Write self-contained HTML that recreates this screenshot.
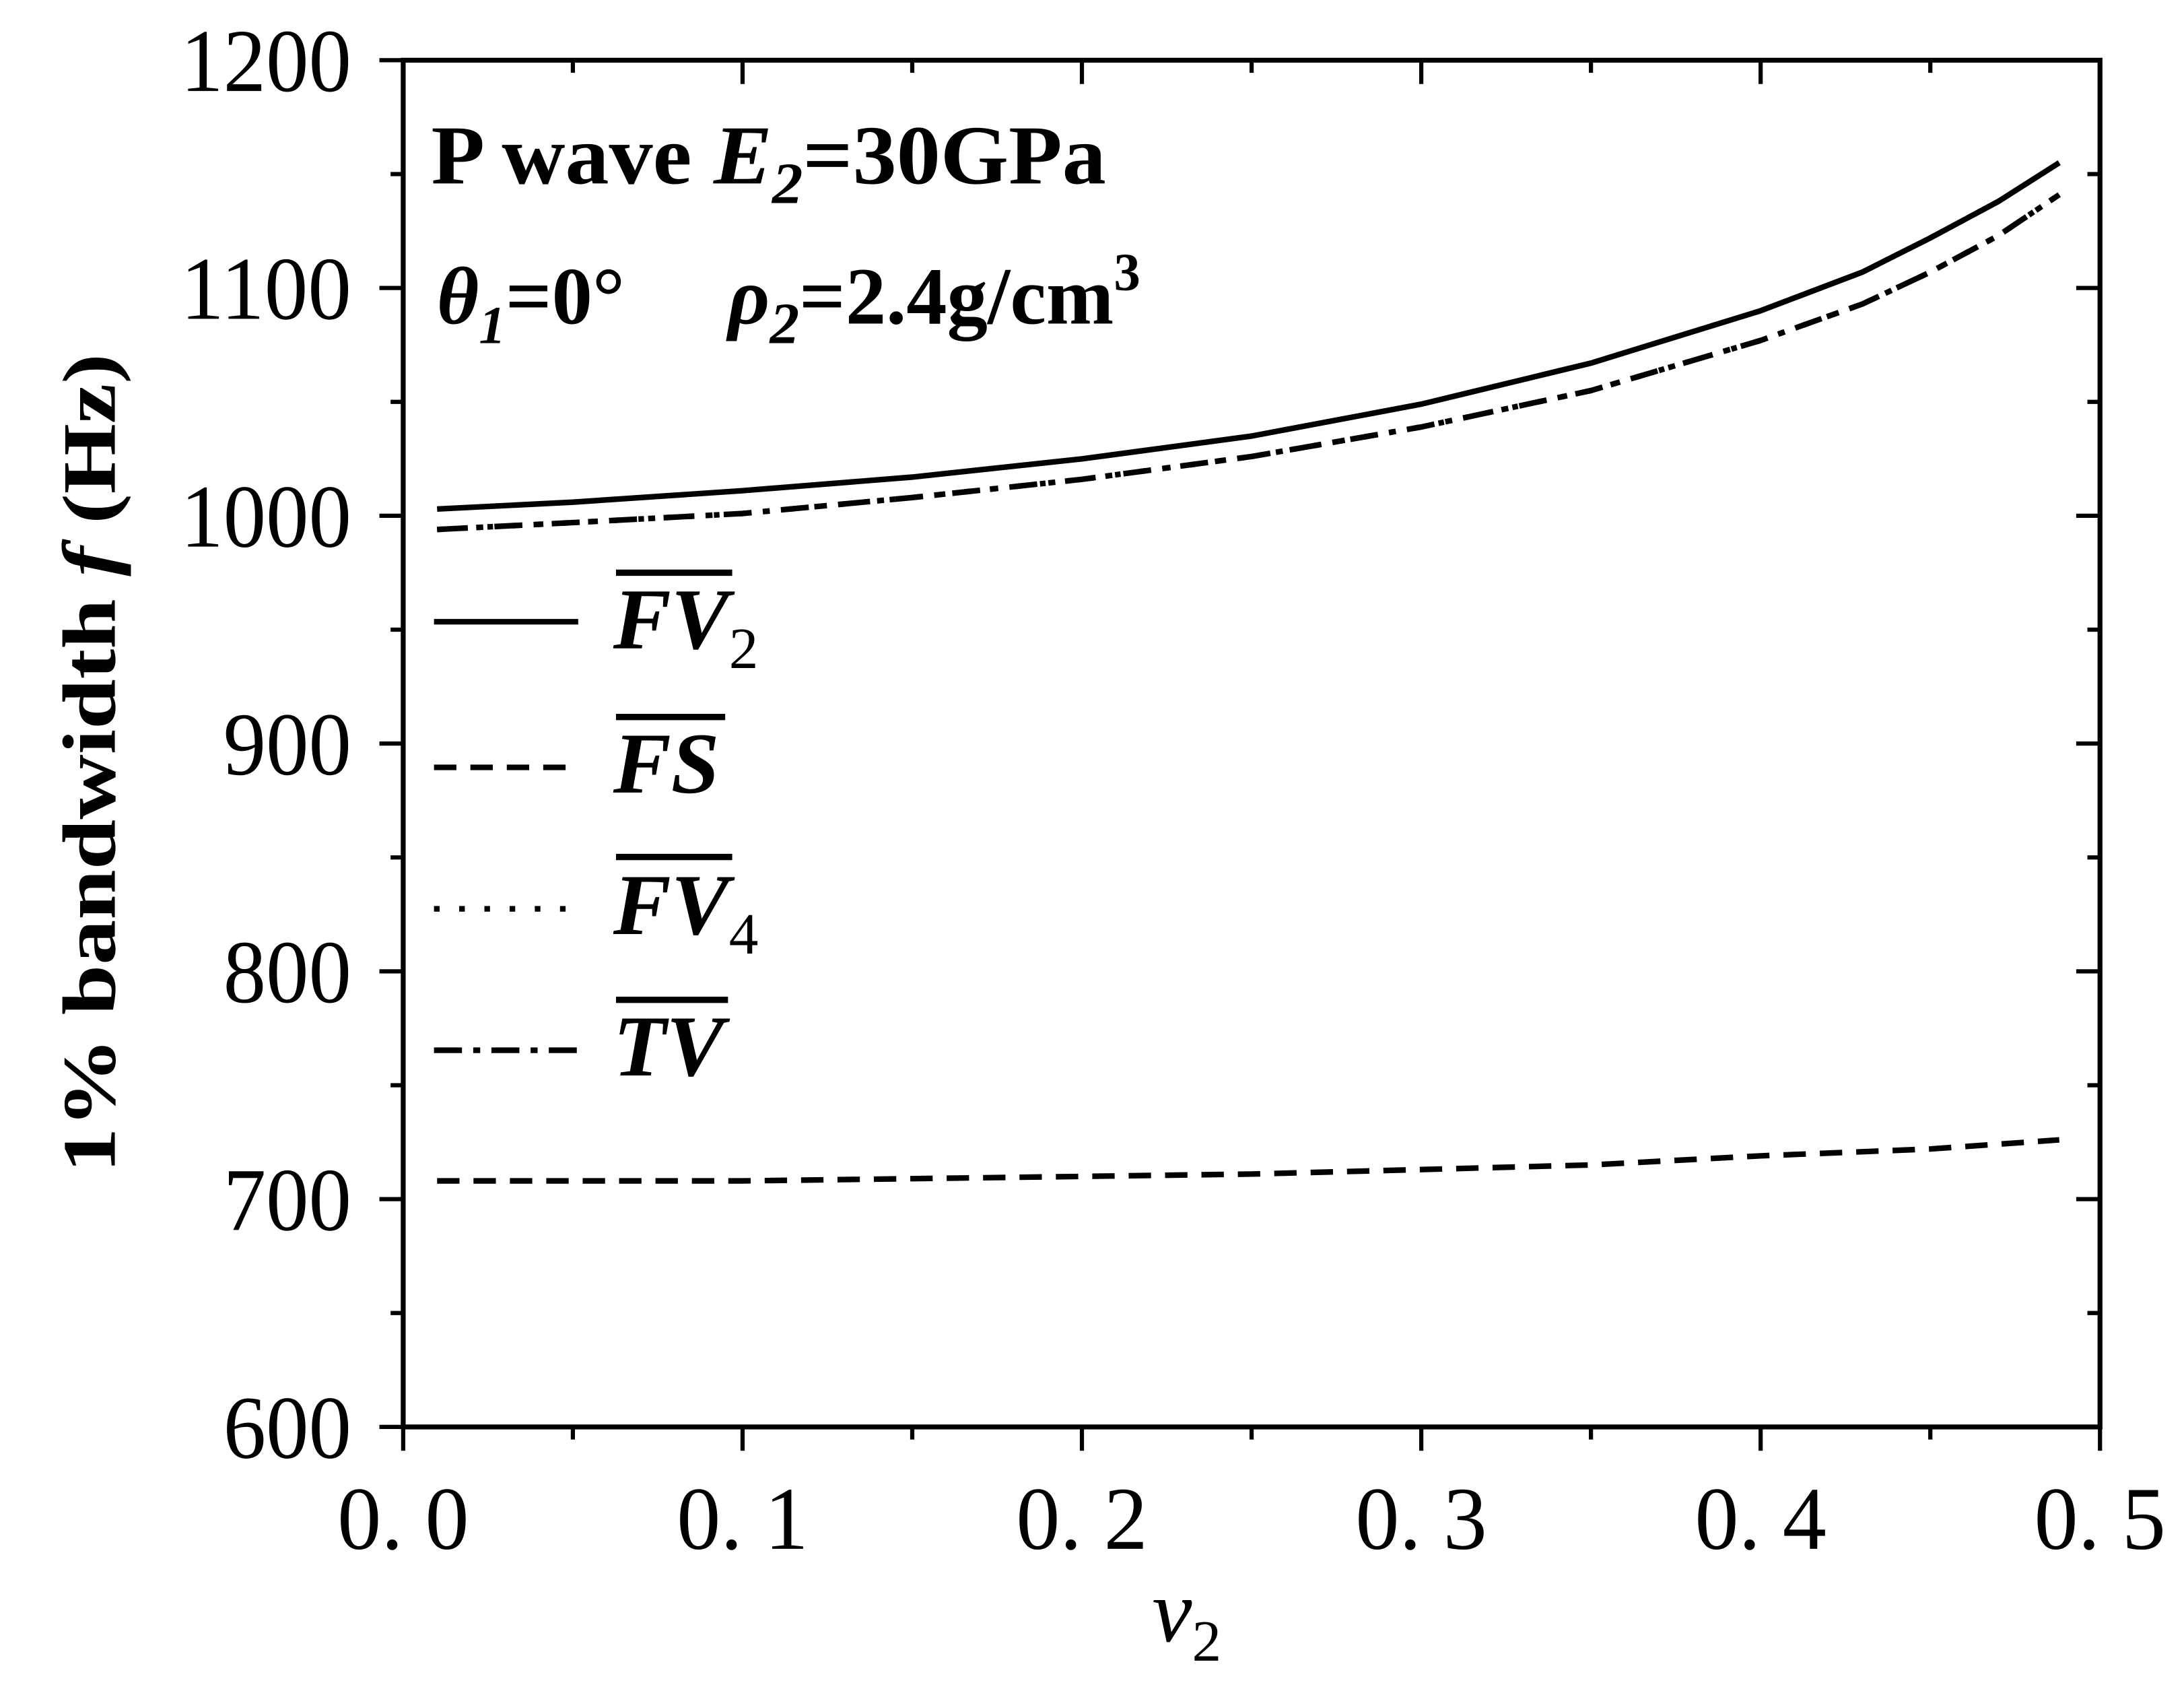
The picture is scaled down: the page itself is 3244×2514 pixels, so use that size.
<!DOCTYPE html>
<html><head><meta charset="utf-8"><style>
html,body{margin:0;padding:0;background:#fff;}
svg{display:block;}
text{font-family:"Liberation Serif","DejaVu Serif",serif;fill:#000;}
</style></head><body>
<svg id="chart" width="3244" height="2514" viewBox="0 0 1560 1209" preserveAspectRatio="none" xmlns="http://www.w3.org/2000/svg">
<g id="axes"></g>
<g id="series"></g>
<g id="legend">
  <line x1="310" y1="444" x2="413" y2="444" stroke="#000" stroke-width="4"/>
  <line x1="310" y1="548" x2="413" y2="548" stroke="#000" stroke-width="4" stroke-dasharray="16,10"/>
  <line x1="310" y1="649" x2="413" y2="649" stroke="#000" stroke-width="4" stroke-dasharray="4,14"/>
  <line x1="310" y1="750" x2="413" y2="750" stroke="#000" stroke-width="4" stroke-dasharray="20,8,5,8"/>
  <g font-weight="bold" font-style="italic" font-size="62">
    <text x="438" y="463">FV<tspan font-size="42" font-style="normal" font-weight="normal" dy="14">2</tspan></text>
    <text x="438" y="566">FS</text>
    <text x="438" y="667">FV<tspan font-size="42" font-style="normal" font-weight="normal" dy="14">4</tspan></text>
    <text x="438" y="768">TV</text>
  </g>
  <g stroke="#000" stroke-width="4.5">
    <line x1="440" y1="409" x2="523" y2="409"/>
    <line x1="440" y1="512" x2="518" y2="512"/>
    <line x1="440" y1="612" x2="523" y2="612"/>
    <line x1="440" y1="714" x2="520" y2="714"/>
  </g>
</g>
<g id="annot" font-weight="bold">
  <text x="308" y="131" font-size="60" textLength="482" lengthAdjust="spacingAndGlyphs">P wave <tspan font-style="italic">E</tspan><tspan font-size="42" font-style="italic" dy="14">2</tspan><tspan dy="-14">=30GPa</tspan></text>
  <text x="312" y="231" font-size="58"><tspan font-style="italic">θ</tspan><tspan font-size="38" font-style="italic" dy="14">1</tspan><tspan dy="-14">=0°</tspan></text>
  <text x="520" y="231" font-size="58"><tspan font-style="italic">ρ</tspan><tspan font-size="42" font-style="italic" dy="14">2</tspan><tspan dy="-14">=2.4g/cm</tspan><tspan font-size="38" dy="-24">3</tspan></text>
</g>
<text font-weight="bold" font-size="54" text-anchor="middle" transform="translate(82,545) rotate(-90)" textLength="585" lengthAdjust="spacingAndGlyphs">1% bandwidth <tspan font-style="italic">f</tspan> (Hz)</text>
<text font-style="italic" font-size="64" x="823" y="1172">ν<tspan font-size="42" font-style="normal" dy="14">2</tspan></text>
</svg>
<script>
const xTicks=[0,0.1,0.2,0.3,0.4,0.5];
const xTickLabels=["0. 0","0. 1","0. 2","0. 3","0. 4","0. 5"];
const yTicks=[600,700,800,900,1000,1100,1200];
const yTickLabels=["600","700","800","900","1000","1100","1200"];
const nuFV2=[0.01,0.05,0.1,0.15,0.2,0.25,0.3,0.35,0.4,0.43,0.45,0.47,0.488];
const valFV2=[1003,1006,1011,1017,1025,1035,1049,1067,1090,1107,1122,1138,1155];
const nuTV=[0.01,0.05,0.1,0.15,0.2,0.25,0.3,0.35,0.4,0.43,0.45,0.47,0.488];
const valTV=[994,997,1001,1008,1016,1026,1039,1055,1077,1093,1107,1123,1141];
const valFV4=[994,997,1001,1008,1016,1026,1039,1055,1077,1093,1107,1123,1141];
const nuFS=[0.01,0.05,0.1,0.15,0.2,0.25,0.3,0.35,0.4,0.45,0.488];
const valFS=[708,708,708,709,710,711,713,715,719,722,726];
const X0=288,X1=1500,Y0=1019,Y1=43;
function sx(v){return X0+(v-0)/(0.5-0)*(X1-X0);}
function sy(v){return Y0-(v-600)/(1200-600)*(Y0-Y1);}
const NS="http://www.w3.org/2000/svg";
function mk(tag,attrs,parent){const e=document.createElementNS(NS,tag);for(const k in attrs)e.setAttribute(k,attrs[k]);parent.appendChild(e);return e;}
const ax=document.getElementById('axes');
const frame=mk('rect',{x:X0,y:Y1,width:X1-X0,height:Y0-Y1,fill:'none',stroke:'#000','stroke-width':3.5},ax);


for(let i=0;i<=10;i++){const v=i*0.05;const x=sx(v);const major=i%2===0;
 const t=mk('line',{x1:x,y1:Y0,x2:x,y2:Y0+(major?17:9),stroke:'#000','stroke-width':3},ax);
 
 
 const t2=mk('line',{x1:x,y1:Y1,x2:x,y2:Y1+(major?17:9),stroke:'#000','stroke-width':3},ax);
 
 }
xTicks.forEach((v,i)=>{const t=mk('text',{x:sx(v),y:1106,'font-size':64,'text-anchor':'middle',textLength:94,lengthAdjust:'spacingAndGlyphs'},ax);t.textContent=xTickLabels[i];
 
 });
for(let i=0;i<=12;i++){const v=600+i*50;const y=sy(v);const major=i%2===0;
 const t=mk('line',{x1:X0-(major?17:9),y1:y,x2:X0,y2:y,stroke:'#000','stroke-width':3},ax);
 
 
 const t2=mk('line',{x1:X1-(major?17:9),y1:y,x2:X1,y2:y,stroke:'#000','stroke-width':3},ax);
 
 }
yTicks.forEach((v,i)=>{const lab=yTickLabels[i];const t=mk('text',{x:251,y:sy(v)+22,'font-size':64,'text-anchor':'end',textLength:lab.length*30.5,lengthAdjust:'spacingAndGlyphs'},ax);t.textContent=lab;
 
 });
const sg=document.getElementById('series');
function path(nu,vals){return nu.map((n,i)=>(i?'L':'M')+sx(n).toFixed(1)+','+sy(vals[i]).toFixed(1)).join(' ');}
const p1=mk('path',{d:path(nuFV2,valFV2),fill:'none',stroke:'#000','stroke-width':4},sg);


const p2=mk('path',{d:path(nuFS,valFS),fill:'none',stroke:'#000','stroke-width':4,'stroke-dasharray':'16,10'},sg);


const p3=mk('path',{d:path(nuTV,valFV4),fill:'none',stroke:'#000','stroke-width':4,'stroke-dasharray':'4,14'},sg);


const p4=mk('path',{d:path(nuTV,valTV),fill:'none',stroke:'#000','stroke-width':4,'stroke-dasharray':'20,8,5,8'},sg);


</script>
</body></html>
